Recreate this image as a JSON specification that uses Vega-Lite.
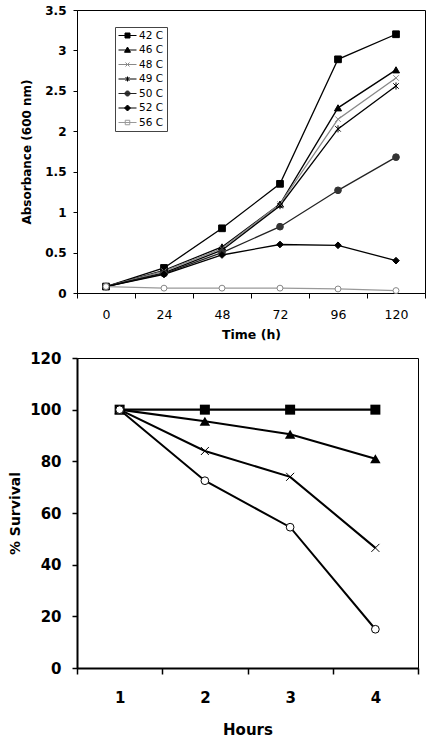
{
  "$schema": "https://vega.github.io/schema/vega-lite/v6.json",
  "padding": {"left": 8, "top": 3, "right": 0, "bottom": 0},
  "background": "white",
  "spacing": 65,
  "bounds": "flush",
  "config": {
    "font": "DejaVu Sans",
    "view": {"stroke": "black", "strokeWidth": 1},
    "axis": {"domainColor": "black", "tickColor": "black", "labelColor": "black", "titleColor": "black", "grid": false, "labelFont": "DejaVu Sans", "titleFont": "DejaVu Sans"}
  },
  "datasets": {
    "growth": [
      {"temp": "42 C", "time": 0, "abs": 0.08}, {"temp": "42 C", "time": 24, "abs": 0.31}, {"temp": "42 C", "time": 48, "abs": 0.8}, {"temp": "42 C", "time": 72, "abs": 1.35}, {"temp": "42 C", "time": 96, "abs": 2.89}, {"temp": "42 C", "time": 120, "abs": 3.2},
      {"temp": "46 C", "time": 0, "abs": 0.08}, {"temp": "46 C", "time": 24, "abs": 0.28}, {"temp": "46 C", "time": 48, "abs": 0.57}, {"temp": "46 C", "time": 72, "abs": 1.1}, {"temp": "46 C", "time": 96, "abs": 2.29}, {"temp": "46 C", "time": 120, "abs": 2.76},
      {"temp": "48 C", "time": 0, "abs": 0.08}, {"temp": "48 C", "time": 24, "abs": 0.27}, {"temp": "48 C", "time": 48, "abs": 0.55}, {"temp": "48 C", "time": 72, "abs": 1.1}, {"temp": "48 C", "time": 96, "abs": 2.15}, {"temp": "48 C", "time": 120, "abs": 2.66},
      {"temp": "49 C", "time": 0, "abs": 0.08}, {"temp": "49 C", "time": 24, "abs": 0.25}, {"temp": "49 C", "time": 48, "abs": 0.53}, {"temp": "49 C", "time": 72, "abs": 1.08}, {"temp": "49 C", "time": 96, "abs": 2.03}, {"temp": "49 C", "time": 120, "abs": 2.56},
      {"temp": "50 C", "time": 0, "abs": 0.08}, {"temp": "50 C", "time": 24, "abs": 0.24}, {"temp": "50 C", "time": 48, "abs": 0.5}, {"temp": "50 C", "time": 72, "abs": 0.82}, {"temp": "50 C", "time": 96, "abs": 1.27}, {"temp": "50 C", "time": 120, "abs": 1.68},
      {"temp": "52 C", "time": 0, "abs": 0.08}, {"temp": "52 C", "time": 24, "abs": 0.23}, {"temp": "52 C", "time": 48, "abs": 0.47}, {"temp": "52 C", "time": 72, "abs": 0.6}, {"temp": "52 C", "time": 96, "abs": 0.59}, {"temp": "52 C", "time": 120, "abs": 0.4},
      {"temp": "56 C", "time": 0, "abs": 0.08}, {"temp": "56 C", "time": 24, "abs": 0.06}, {"temp": "56 C", "time": 48, "abs": 0.06}, {"temp": "56 C", "time": 72, "abs": 0.06}, {"temp": "56 C", "time": 96, "abs": 0.05}, {"temp": "56 C", "time": 120, "abs": 0.03}
    ],
    "survival": [
      {"series": "S1", "hour": 1, "pct": 100}, {"series": "S1", "hour": 2, "pct": 100}, {"series": "S1", "hour": 3, "pct": 100}, {"series": "S1", "hour": 4, "pct": 100},
      {"series": "S2", "hour": 1, "pct": 100}, {"series": "S2", "hour": 2, "pct": 95.5}, {"series": "S2", "hour": 3, "pct": 90.5}, {"series": "S2", "hour": 4, "pct": 81},
      {"series": "S3", "hour": 1, "pct": 100}, {"series": "S3", "hour": 2, "pct": 84}, {"series": "S3", "hour": 3, "pct": 74}, {"series": "S3", "hour": 4, "pct": 46.5},
      {"series": "S4", "hour": 1, "pct": 100}, {"series": "S4", "hour": 2, "pct": 72.5}, {"series": "S4", "hour": 3, "pct": 54.5}, {"series": "S4", "hour": 4, "pct": 15}
    ]
  },
  "vconcat": [
    {
      "width": 348,
      "height": 283,
      "data": {"name": "growth"},
      "encoding": {
        "x": {
          "field": "time", "type": "ordinal", "bandPosition": 0.5,
          "scale": {"type": "band", "paddingInner": 0, "paddingOuter": 0},
          "axis": {"title": "Time (h)", "labelAngle": 0, "tickBand": "extent", "tickSize": 5, "labelFontSize": 12.5, "labelFontWeight": "normal", "labelPadding": 10, "titleFontSize": 12.5, "titleFontWeight": "bold", "titlePadding": 8}
        },
        "y": {
          "field": "abs", "type": "quantitative",
          "scale": {"domain": [0, 3.5], "nice": false},
          "axis": {"title": "Absorbance (600 nm)", "values": [0, 0.5, 1, 1.5, 2, 2.5, 3, 3.5], "format": "~g", "tickSize": 4, "labelFontSize": 12, "labelFontWeight": "bold", "labelPadding": 7, "titleFontSize": 12, "titleFontWeight": "bold", "titlePadding": 11}
        }
      },
      "layer": [
        {
          "mark": {"type": "line", "strokeWidth": 1.3},
          "encoding": {
            "stroke": {
              "field": "temp", "type": "nominal",
              "scale": {"domain": ["42 C", "46 C", "48 C", "49 C", "50 C", "52 C", "56 C"], "range": ["black", "black", "#888888", "black", "#222222", "black", "#999999"]},
              "legend": {
                "orient": "none", "legendX": 38, "legendY": 17, "title": null,
                "strokeColor": "#444444", "fillColor": "white", "padding": 3,
                "labelFont": "DejaVu Sans", "labelFontSize": 10.5, "labelColor": "black", "labelOffset": 10,
                "symbolSize": 100, "rowPadding": 3.5,
                "encode": {
                  "symbols": {
                    "update": {
                      "shape": {"signal": "'M-1,0L2.6,0' + (datum.value == '42 C' ? 'M0.3,-0.5L1.3,-0.5L1.3,0.5L0.3,0.5Z' : datum.value == '46 C' ? 'M0.8,-0.6L1.4,0.45L0.2,0.45Z' : datum.value == '48 C' ? 'M0.4,-0.4L1.2,0.4M0.4,0.4L1.2,-0.4' : datum.value == '49 C' ? 'M0.4,-0.4L1.2,0.4M0.4,0.4L1.2,-0.4M0.8,-0.5L0.8,0.5' : datum.value == '50 C' ? 'M0.3,0A0.5,0.5,0,1,0,1.3,0A0.5,0.5,0,1,0,0.3,0Z' : datum.value == '52 C' ? 'M0.8,-0.6L1.4,0L0.8,0.6L0.2,0Z' : 'M0.35,-0.45L1.25,-0.45L1.25,0.45L0.35,0.45Z')"},
                      "fill": {"signal": "datum.value == '56 C' ? 'white' : (datum.value == '48 C' || datum.value == '49 C') ? 'transparent' : datum.value == '50 C' ? '#333333' : 'black'"},
                      "stroke": {"signal": "(datum.value == '48 C' || datum.value == '56 C') ? '#888888' : 'black'"},
                      "strokeWidth": {"value": 1},
                      "opacity": {"value": 1}
                    }
                  }
                }
              }
            }
          }
        },
        {
          "transform": [{"filter": "datum.temp == '42 C'"}],
          "mark": {"type": "point", "shape": "square", "size": 45, "fill": "black", "stroke": "black", "strokeWidth": 1, "opacity": 1}
        },
        {
          "transform": [{"filter": "datum.temp == '46 C'"}],
          "mark": {"type": "point", "shape": "triangle-up", "size": 50, "fill": "black", "stroke": "black", "strokeWidth": 1, "opacity": 1}
        },
        {
          "transform": [{"filter": "datum.temp == '48 C'"}],
          "mark": {"type": "point", "shape": "M-1,-1L1,1M-1,1L1,-1", "size": 30, "fill": "transparent", "stroke": "#888888", "strokeWidth": 1, "opacity": 1}
        },
        {
          "transform": [{"filter": "datum.temp == '49 C'"}],
          "mark": {"type": "point", "shape": "M-1,-1L1,1M-1,1L1,-1M0,-1.3L0,1.3", "size": 30, "fill": "transparent", "stroke": "black", "strokeWidth": 1, "opacity": 1}
        },
        {
          "transform": [{"filter": "datum.temp == '50 C'"}],
          "mark": {"type": "point", "shape": "circle", "size": 45, "fill": "#333333", "stroke": "#333333", "strokeWidth": 1, "opacity": 1}
        },
        {
          "transform": [{"filter": "datum.temp == '52 C'"}],
          "mark": {"type": "point", "shape": "diamond", "size": 45, "fill": "black", "stroke": "black", "strokeWidth": 1, "opacity": 1}
        },
        {
          "transform": [{"filter": "datum.temp == '56 C'"}],
          "mark": {"type": "point", "shape": "circle", "size": 35, "fill": "white", "stroke": "#888888", "strokeWidth": 1, "opacity": 1}
        },
        {
          "data": {"values": [{"label": "A"}]},
          "mark": {"type": "text", "fontSize": 10, "fontWeight": "bold", "align": "center", "baseline": "middle", "dx": 16, "dy": 11, "color": "black"},
          "encoding": {
            "x": {"datum": 0, "type": "ordinal", "bandPosition": 0},
            "y": {"datum": 3.5, "type": "quantitative"},
            "text": {"field": "label"}
          }
        }
      ]
    },
    {
      "width": 341,
      "height": 310,
      "data": {"name": "survival"},
      "encoding": {
        "x": {
          "field": "hour", "type": "ordinal", "bandPosition": 0.5,
          "scale": {"type": "band", "paddingInner": 0, "paddingOuter": 0},
          "axis": {"title": "Hours", "labelAngle": 0, "tickBand": "extent", "tickSize": 6, "domainWidth": 2, "tickWidth": 1.5, "labelFontSize": 15, "labelFontWeight": "bold", "labelPadding": 16, "titleFontSize": 15, "titleFontWeight": "bold", "titlePadding": 17}
        },
        "y": {
          "field": "pct", "type": "quantitative",
          "scale": {"domain": [0, 120], "nice": false},
          "axis": {"title": "% Survival", "values": [0, 20, 40, 60, 80, 100, 120], "tickSize": 5, "domainWidth": 2, "tickWidth": 1.5, "labelFontSize": 15, "labelFontWeight": "bold", "labelPadding": 11, "titleFontSize": 14, "titleFontWeight": "bold", "titlePadding": 7}
        }
      },
      "layer": [
        {
          "data": {"values": [{"edge": "top"}]},
          "mark": {"type": "rule", "color": "black", "strokeWidth": 2},
          "encoding": {
            "y": {"datum": 120, "type": "quantitative"}
          }
        },
        {
          "data": {"values": [{"edge": "right"}]},
          "mark": {"type": "rule", "color": "black", "strokeWidth": 2},
          "encoding": {
            "x": {"datum": 4, "type": "ordinal", "bandPosition": 1}
          }
        },
        {
          "mark": {"type": "line", "color": "black"},
          "encoding": {
            "detail": {"field": "series", "type": "nominal"},
            "strokeWidth": {
              "field": "series", "type": "nominal", "legend": null,
              "scale": {"domain": ["S1", "S2", "S3", "S4"], "range": [2.2, 2, 1, 1]}
            }
          }
        },
        {
          "transform": [{"filter": "datum.series == 'S1'"}],
          "mark": {"type": "point", "shape": "square", "size": 100, "filled": true, "color": "black", "opacity": 1}
        },
        {
          "transform": [{"filter": "datum.series == 'S2'"}],
          "mark": {"type": "point", "shape": "triangle-up", "size": 110, "filled": true, "color": "black", "opacity": 1}
        },
        {
          "transform": [{"filter": "datum.series == 'S3'"}],
          "mark": {"type": "point", "shape": "M-1,-1L1,1M-1,1L1,-1", "size": 64, "filled": false, "stroke": "black", "strokeWidth": 1, "opacity": 1}
        },
        {
          "transform": [{"filter": "datum.series == 'S4'"}],
          "mark": {"type": "point", "shape": "circle", "size": 60, "fill": "white", "stroke": "black", "strokeWidth": 1, "opacity": 1}
        },
        {
          "data": {"values": [{"label": "B"}]},
          "mark": {"type": "text", "fontSize": 10, "fontWeight": "bold", "align": "center", "baseline": "middle", "dx": 16, "dy": 11, "color": "black"},
          "encoding": {
            "x": {"datum": 1, "type": "ordinal", "bandPosition": 0},
            "y": {"datum": 120, "type": "quantitative"},
            "text": {"field": "label"}
          }
        }
      ]
    }
  ]
}
